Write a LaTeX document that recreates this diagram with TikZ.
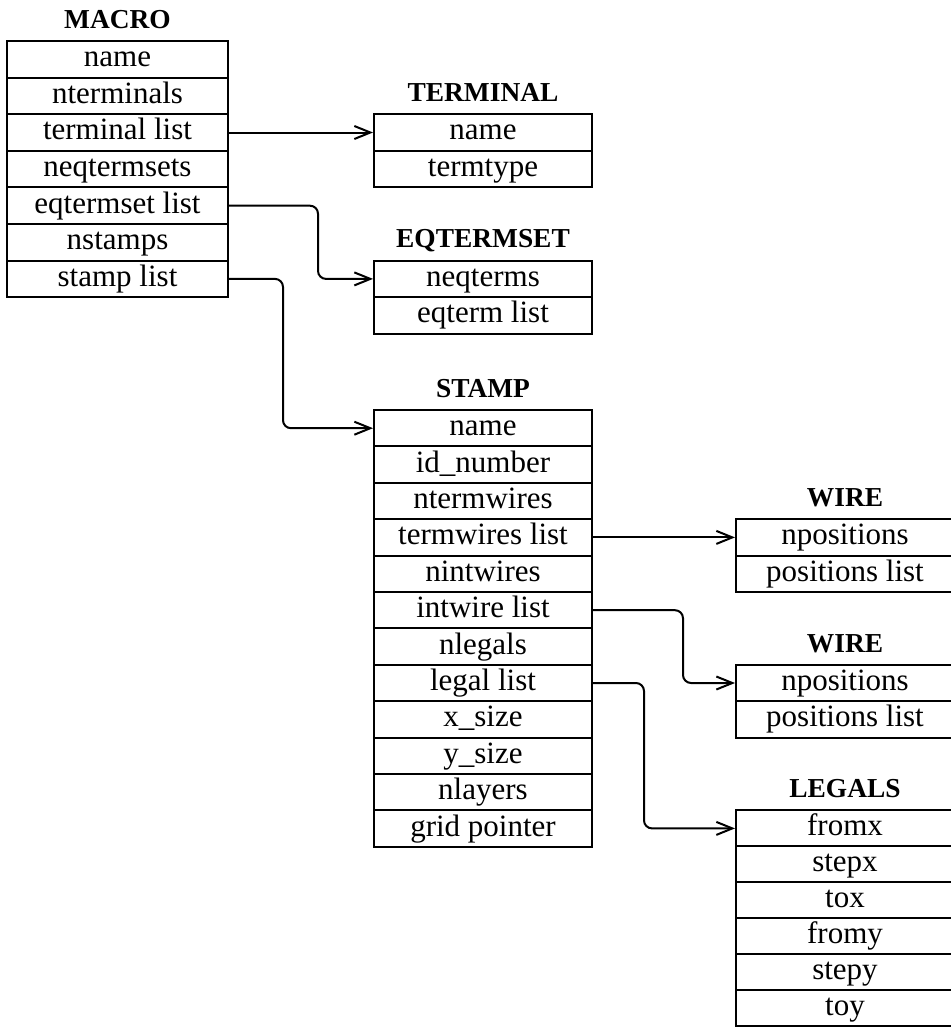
\documentclass[tikz,border=0pt]{standalone}
\usepackage{fontspec}
\setmainfont{Liberation Serif}
\usetikzlibrary{arrows.meta}
\tikzset{
  field/.style={draw,line width=1pt,inner sep=0pt,minimum width=109pt,minimum height=18.2pt,
    text height=10pt,text depth=2.6pt,font=\fontsize{15.5}{18}\selectfont},
  wide/.style={minimum width=110.5pt,minimum height=18.3pt},
  tall/.style={minimum height=18.3pt},
  short/.style={minimum height=18pt},
  title/.style={anchor=base,inner sep=0pt,font=\fontsize{13.7}{16}\selectfont\bfseries},
  ptr/.style={line width=1pt,rounded corners=4pt,-{Straight Barb[length=8pt,width=6.5pt]}}
}
\begin{document}
\begin{tikzpicture}[x=0.5pt,y=-0.5pt]
  \useasboundingbox (0,0) rectangle (951,1029);
  % macro
  \node[title] (MACRO) at (117.5,28.3) {MACRO};
  \node[field,wide] (M1) at (117.5,59.3) {name};
  \node[field,wide] (M2) at (117.5,95.9) {nterminals};
  \node[field,wide] (M3) at (117.5,132.5) {terminal list};
  \node[field,wide] (M4) at (117.5,169.1) {neqtermsets};
  \node[field,wide] (M5) at (117.5,205.7) {eqtermset list};
  \node[field,wide] (M6) at (117.5,242.3) {nstamps};
  \node[field,wide] (M7) at (117.5,278.9) {stamp list};
  % terminal and eqtermset
  \node[title] (TERMINAL) at (483,101.5) {TERMINAL};
  \node[field,tall] (T1) at (483,132.5) {name};
  \node[field,tall] (T2) at (483,169.1) {termtype};
  \node[title] (EQTERMSET) at (483,247.9) {EQTERMSET};
  \node[field,tall] (E1) at (483,278.9) {neqterms};
  \node[field,tall] (E2) at (483,315.5) {eqterm list};
  % stamp
  \node[title] (STAMP) at (483,397.3) {STAMP};
  \node[field] (S1) at (483,428.2) {name};
  \node[field] (S2) at (483,464.6) {id\_number};
  \node[field] (S3) at (483,501) {ntermwires};
  \node[field] (S4) at (483,537.4) {termwires list};
  \node[field] (S5) at (483,573.8) {nintwires};
  \node[field] (S6) at (483,610.2) {intwire list};
  \node[field] (S7) at (483,646.6) {nlegals};
  \node[field] (S8) at (483,683) {legal list};
  \node[field] (S9) at (483,719.4) {x\_size};
  \node[field] (S10) at (483,755.8) {y\_size};
  \node[field] (S11) at (483,792.2) {nlayers};
  \node[field] (S12) at (483,828.6) {grid pointer};
  % wires
  \node[title] (WIRE) at (845,506.5) {WIRE};
  \node[field] (W1) at (845,537.4) {npositions};
  \node[field] (W2) at (845,573.8) {positions list};
  \node[title] (WIRE') at (845,652.1) {WIRE};
  \node[field] (V1) at (845,683) {npositions};
  \node[field] (V2) at (845,719.4) {positions list};
  % legals
  \node[title] (LEGALS) at (845,797.7) {LEGALS};
  \node[field,short] (L1) at (845,828.4) {fromx};
  \node[field,short] (L2) at (845,864.4) {stepx};
  \node[field,short] (L3) at (845,900.4) {tox};
  \node[field,short] (L4) at (845,936.4) {fromy};
  \node[field,short] (L5) at (845,972.4) {stepy};
  \node[field,short] (L6) at (845,1008.4) {toy};
  % pointers
  \draw[ptr] (M3.east) -- (T1.west);
  \draw[ptr] (M5.east) -- ++(89,0) |- (E1.west);
  \draw[ptr] (M7.east) -- ++(54,0) |- (S1.west);
  \draw[ptr] (S4.east) -- (W1.west);
  \draw[ptr] (S6.east) -- ++(90,0) |- (V1.west);
  \draw[ptr] (S8.east) -- ++(51,0) |- (L1.west);
\end{tikzpicture}
\end{document}
